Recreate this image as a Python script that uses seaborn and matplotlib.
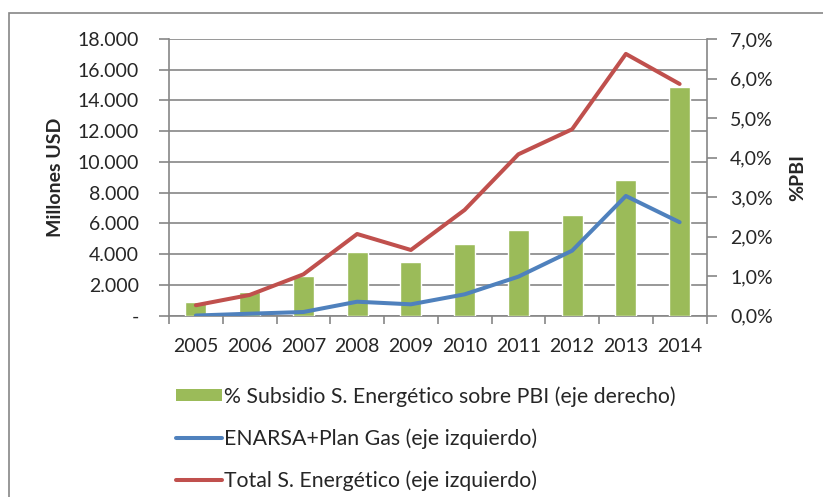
import pandas as pd
import matplotlib.pyplot as plt
import matplotlib.ticker as mticker
from matplotlib.patches import Rectangle, Patch
from matplotlib.lines import Line2D
import seaborn as sns

# =========================
# datos
# =========================
anios = ["2005", "2006", "2007", "2008", "2009", "2010", "2011", "2012", "2013", "2014"]
subsidio_pbi = [0.35, 0.59, 1.01, 1.61, 1.37, 1.81, 2.17, 2.55, 3.43, 5.78]  # % PBI
enarsa_plan_gas = [10, 130, 240, 910, 740, 1390, 2540, 4230, 7790, 6080]
total_energetico = [680, 1350, 2690, 5315, 4275, 6880, 10500, 12130, 17030, 15075]

lbl_barras = "% Subsidio S. Energético sobre PBI (eje derecho)"
lbl_enarsa = "ENARSA+Plan Gas (eje izquierdo)"
lbl_total = "Total S. Energético (eje izquierdo)"

verde = "#9BBB59"
azul = "#4F81BD"
rojo = "#C0504D"
gris = "#868686"

df = pd.DataFrame({
    "anio": anios,
    "pbi": subsidio_pbi,
    "enarsa": enarsa_plan_gas,
    "total": total_energetico,
})

# =========================
# estilo
# =========================
sns.set_style("white")
plt.rcParams["font.family"] = ["Lato", "DejaVu Sans"]
plt.rcParams["font.size"] = 14

fig = plt.figure(figsize=(8.23, 4.97), dpi=100)

# eje izquierdo: solo grilla y escala en millones
ax1 = fig.add_axes([169 / 823, 1 - 315.7 / 497, 537.5 / 823, 276.7 / 497])
ax1.set_ylim(0, 18000)
ax1.set_xlim(-0.5, 9.5)
ax1.yaxis.set_major_locator(mticker.MultipleLocator(2000))
ax1.yaxis.set_major_formatter(
    mticker.FuncFormatter(lambda v, p: "-" if v == 0 else f"{v:,.0f}".replace(",", "."))
)
ax1.grid(axis="y", color=gris, linewidth=1.2)
ax1.set_axisbelow(True)

# eje derecho: barras en % del PBI
ax2 = ax1.twinx()
sns.barplot(data=df, x="anio", y="pbi", color=verde, width=0.39,
            saturation=1, ax=ax2, zorder=2)
ax2.set_ylim(0, 7)
ax2.set_xlim(-0.5, 9.5)
ax2.yaxis.set_major_locator(mticker.MultipleLocator(1))
ax2.yaxis.set_major_formatter(
    mticker.FuncFormatter(lambda v, p: f"{v:.1f}".replace(".", ",") + "%")
)

# líneas en millones USD, encima de las barras
ax3 = ax1.twinx()
ax3.set_ylim(0, 18000)
sns.lineplot(data=df, x="anio", y="total", color=rojo, linewidth=2.9, ax=ax3, sort=False)
sns.lineplot(data=df, x="anio", y="enarsa", color=azul, linewidth=2.9, ax=ax3, sort=False)
ax3.set_xlim(-0.5, 9.5)
ax3.set_yticks([])
ax3.set_ylabel("")
ax3.set_xlabel("")
for s in ax3.spines.values():
    s.set_visible(False)

# =========================
# ejes y etiquetas
# =========================
for ax in (ax1, ax2):
    for s in ax.spines.values():
        s.set_visible(False)

ax1.spines["left"].set_visible(True)
ax1.spines["bottom"].set_visible(True)
ax2.spines["right"].set_visible(True)
for s in (ax1.spines["left"], ax1.spines["bottom"], ax2.spines["right"]):
    s.set_color(gris)
    s.set_linewidth(1.2)

ax1.tick_params(axis="y", direction="out", length=7.5, width=1.2, color=gris,
                pad=14, labelsize=14, left=True)
ax2.tick_params(axis="y", direction="out", length=7, width=1.2, color=gris,
                pad=10, labelsize=14, right=True)

# marcas del eje x entre categorías
ax1.set_xticks(range(len(anios)))
ax1.set_xticklabels(anios)
ax1.set_xticks([i - 0.5 for i in range(len(anios) + 1)], minor=True)
ax1.tick_params(axis="x", which="major", length=0, pad=16, labelsize=14)
ax1.tick_params(axis="x", which="minor", direction="out", length=6, width=1.2,
                color=gris, bottom=True)
ax2.set_xlabel("")
ax2.tick_params(axis="x", length=0, labelbottom=False)
ax3.tick_params(axis="x", length=0, labelbottom=False)

ax1.set_ylabel("Millones USD", fontweight="bold", fontsize=14, labelpad=10)
ax2.set_ylabel("%PBI", fontweight="bold", fontsize=14, rotation=90, labelpad=12)

# =========================
# leyenda
# =========================
handles = [
    Patch(facecolor=verde, edgecolor="none"),
    Line2D([], [], color=azul, linewidth=2.9),
    Line2D([], [], color=rojo, linewidth=2.9),
]
fig.legend(handles, [lbl_barras, lbl_enarsa, lbl_total],
           loc="upper left", bbox_to_anchor=(176 / 823, 1 - 386 / 497),
           frameon=False, fontsize=15.3, handlelength=2.15, handleheight=0.5,
           handletextpad=0.1, labelspacing=1.02, borderpad=0, borderaxespad=0)

# marco del gráfico
fig.patches.append(Rectangle((9 / 823, -0.05), 1.1, 1 - 13 / 497 + 0.05,
                             transform=fig.transFigure, fill=False,
                             edgecolor=gris, linewidth=1.2))

fig.savefig("out.png", dpi=100)
